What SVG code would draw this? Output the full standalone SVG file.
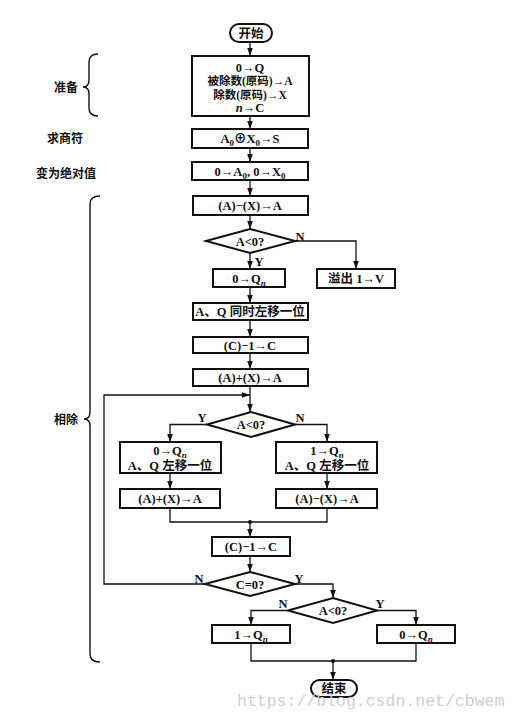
<svg xmlns="http://www.w3.org/2000/svg" width="519" height="719" viewBox="0 0 519 719">
<defs>
<marker id="ar" markerUnits="userSpaceOnUse" markerWidth="8" markerHeight="8" viewBox="0 0 8 8" refX="8" refY="4" orient="auto">
<path d="M0,1.2 L8,4 L0,6.8 Z" fill="#111"/>
</marker>
</defs>
<style>
rect.b, polygon.d, rect.t { fill: #fff; stroke: #111; stroke-width: 2; }
.c path, .c line { fill: none; stroke: #111; stroke-width: 1.3; }
text { font-family: "Liberation Serif", "Noto Sans CJK SC", serif; font-weight: bold; font-size: 12.5px; fill: #111; text-anchor: middle; }
.sm { font-size: 11.5px; }
.lab { font-size: 12px; }
.br { fill: none; stroke: #111; stroke-width: 1.4; }
.wm { font-family: "Liberation Mono", monospace; font-weight: normal; font-size: 16.5px; fill: #cfcfcf; text-anchor: start; }
</style>
<rect width="519" height="719" fill="#fff"/>

<!-- side labels and braces -->
<g id="side">
<path class="br" d="M98,54 Q89,54 89,62 L89,80 Q89,87 83,87 Q89,87 89,94 L89,108 Q89,116 98,116"/>
<text class="lab" x="66" y="91.5">准备</text>
<text class="lab" x="65" y="142.5">求商符</text>
<text class="lab" x="66" y="177.5">变为绝对值</text>
<path class="br" d="M100,196 Q90,196 90,204 L90,412 Q90,419 84,419 Q90,419 90,426 L90,654 Q90,662 100,662"/>
<text class="lab" x="66" y="423.5">相除</text>
</g>

<!-- connectors -->
<g id="connectors" class="c">
<line x1="250" y1="42" x2="250" y2="56" marker-end="url(#ar)"/>
<line x1="250" y1="116" x2="250" y2="129" marker-end="url(#ar)"/>
<line x1="250" y1="148" x2="250" y2="162" marker-end="url(#ar)"/>
<line x1="250" y1="180" x2="250" y2="196" marker-end="url(#ar)"/>
<line x1="250" y1="215" x2="250" y2="229" marker-end="url(#ar)"/>
<line x1="250" y1="253" x2="250" y2="269" marker-end="url(#ar)"/>
<path d="M295,241 L356,241 L356,269" marker-end="url(#ar)"/>
<line x1="250" y1="287" x2="250" y2="303" marker-end="url(#ar)"/>
<line x1="250" y1="320" x2="250" y2="337" marker-end="url(#ar)"/>
<line x1="250" y1="353" x2="250" y2="369" marker-end="url(#ar)"/>
<line x1="250" y1="386" x2="250" y2="412" marker-end="url(#ar)"/>
<path d="M207,424.5 L170,424.5 L170,442" marker-end="url(#ar)"/>
<path d="M295,424.5 L327,424.5 L327,442" marker-end="url(#ar)"/>
<line x1="170" y1="473" x2="170" y2="489" marker-end="url(#ar)"/>
<line x1="327" y1="473" x2="327" y2="489" marker-end="url(#ar)"/>
<path d="M170,508 L170,522 L327,522 L327,508"/>
<circle cx="250" cy="522" r="2" fill="#111"/>
<line x1="250" y1="522" x2="250" y2="537" marker-end="url(#ar)"/>
<line x1="250" y1="556" x2="250" y2="572" marker-end="url(#ar)"/>
<path d="M205,584 L104,584 L104,395 L250,395" marker-end="url(#ar)"/>
<path d="M295,584 L333,584 L333,598" marker-end="url(#ar)"/>
<path d="M288,610.5 L251,610.5 L251,625" marker-end="url(#ar)"/>
<path d="M377,610.5 L416,610.5 L416,625" marker-end="url(#ar)"/>
<path d="M251,643 L251,661 L416,661 L416,643"/>
<circle cx="333" cy="661" r="2" fill="#111"/>
<line x1="333" y1="661" x2="333" y2="680" marker-end="url(#ar)"/>
<text x="300" y="240.5">N</text>
<text x="259" y="265.5">Y</text>
<text x="202" y="421.5">Y</text>
<text x="300" y="421.5">N</text>
<text x="199" y="582.5">N</text>
<text x="299" y="582.5">Y</text>
<text x="283" y="607.5">N</text>
<text x="380" y="607.5">Y</text>
</g>

<!-- nodes -->
<g id="start"><rect class="t" x="230" y="24" width="42" height="18" rx="9"/><text x="251" y="37.5">开始</text></g>
<g id="prep"><rect class="b" x="192" y="56" width="117" height="60"/>
<text x="250" y="71.5">0→Q</text>
<text class="sm" x="250" y="85">被除数(原码)→A</text>
<text class="sm" x="250" y="98.5">除数(原码)→X</text>
<text x="250" y="112"><tspan font-style="italic">n</tspan>→C</text></g>
<g id="sign"><rect class="b" x="192" y="129" width="116" height="19"/><text x="250" y="143">A<tspan font-size="9" dy="3">0</tspan><tspan dy="-3">⊕X</tspan><tspan font-size="9" dy="3">0</tspan><tspan dy="-3">→S</tspan></text></g>
<g id="abs"><rect class="b" x="192" y="162" width="116" height="18"/><text x="250" y="175.5">0→A<tspan font-size="9" dy="3">0</tspan><tspan dy="-3">, 0→X</tspan><tspan font-size="9" dy="3">0</tspan></text></g>
<g id="sub1"><rect class="b" x="193" y="196" width="115" height="19"/><text x="250" y="210">(A)−(X)→A</text></g>
<g id="dec1"><polygon class="d" points="206,241 250,229 295,241 250,253"/><text x="250" y="245.5">A&lt;0?</text></g>
<g id="ovf"><rect class="b" x="317" y="269" width="78" height="19"/><text x="356" y="283">溢出  1→V</text></g>
<g id="q0a"><rect class="b" x="213" y="269" width="72" height="18"/><text x="249" y="282.5">0→Q<tspan font-size="9" dy="3" font-style="italic">n</tspan></text></g>
<g id="shift"><rect class="b" x="193" y="303" width="115" height="17"/><text x="250" y="316">A、Q 同时左移一位</text></g>
<g id="cdec1"><rect class="b" x="193" y="337" width="115" height="16"/><text x="250" y="349.5">(C)−1→C</text></g>
<g id="add1"><rect class="b" x="193" y="369" width="115" height="17"/><text x="250" y="382">(A)+(X)→A</text></g>
<g id="dec2"><polygon class="d" points="207,424.5 251,412 295,424.5 251,437"/><text x="251" y="429">A&lt;0?</text></g>
<g id="lbox"><rect class="b" x="120" y="442" width="101" height="31"/>
<text x="170" y="454.5">0→Q<tspan font-size="9" dy="3" font-style="italic">n</tspan></text>
<text x="170" y="469.5">A、Q 左移一位</text></g>
<g id="rbox"><rect class="b" x="276" y="442" width="101" height="31"/>
<text x="327" y="454.5">1→Q<tspan font-size="9" dy="3" font-style="italic">n</tspan></text>
<text x="327" y="469.5">A、Q 左移一位</text></g>
<g id="ladd"><rect class="b" x="120" y="489" width="100" height="19"/><text x="170" y="503">(A)+(X)→A</text></g>
<g id="rsub"><rect class="b" x="276" y="489" width="101" height="19"/><text x="327" y="503">(A)−(X)→A</text></g>
<g id="cdec2"><rect class="b" x="212" y="537" width="78" height="19"/><text x="251" y="551">(C)−1→C</text></g>
<g id="dec3"><polygon class="d" points="205,584 250,572 295,584 250,596"/><text x="250" y="588.5">C=0?</text></g>
<g id="dec4"><polygon class="d" points="288,610.5 333,598 377,610.5 333,623"/><text x="333" y="615">A&lt;0?</text></g>
<g id="q1"><rect class="b" x="212" y="625" width="78" height="18"/><text x="251" y="638.5">1→Q<tspan font-size="9" dy="3" font-style="italic">n</tspan></text></g>
<g id="q0b"><rect class="b" x="377" y="625" width="78" height="18"/><text x="416" y="638.5">0→Q<tspan font-size="9" dy="3" font-style="italic">n</tspan></text></g>
<g id="end"><rect class="t" x="311" y="680" width="46" height="17" rx="8.5"/><text x="334" y="693">结束</text></g>

<text class="wm" x="237" y="706">https://blog.csdn.net/cbwem</text>
</svg>
